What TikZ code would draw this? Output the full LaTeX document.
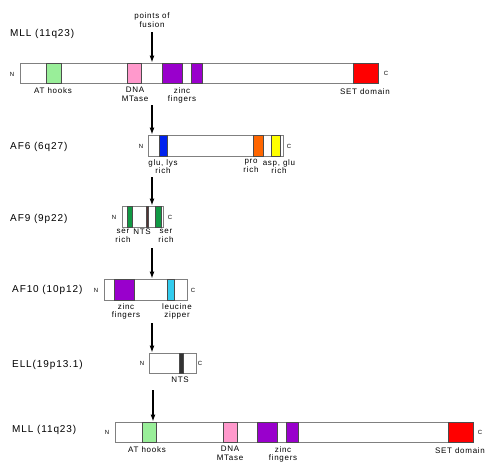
\documentclass[tikz,border=0pt]{standalone}
\usepackage{fontspec}
\setmainfont{Liberation Sans}
\newfontfamily\lblfont[LetterSpace=9]{Liberation Sans}
\usepackage{tikz}
\usetikzlibrary{positioning,arrows.meta,calc}
\definecolor{atgreen}{HTML}{99EE99}
\definecolor{mtpink}{HTML}{FF99CC}
\definecolor{znpurple}{HTML}{9900CC}
\definecolor{setred}{HTML}{FF0000}
\definecolor{glublue}{HTML}{0022EE}
\definecolor{proorange}{HTML}{FF6600}
\definecolor{aspyellow}{HTML}{FFFF00}
\definecolor{sergreen}{HTML}{119944}
\definecolor{ntsbrown}{HTML}{553333}
\definecolor{lzcyan}{HTML}{33CCEE}
\definecolor{barline}{HTML}{808080}

\begin{document}
\begin{tikzpicture}[
  x=1pt, y=-1pt,
  bar/.style={draw=barline, line width=0.9pt, fill=white, inner sep=0pt,
    minimum height=20pt},
  dom/.style={draw=black!70, line width=0.5pt, inner sep=0pt, minimum height=20pt},
  lbl/.style={inner sep=0pt, anchor=north, align=center,
    font=\lblfont\fontsize{8}{8.5}\selectfont},
  term/.style={inner sep=0pt, font=\lblfont\fontsize{6}{7}\selectfont},
  title/.style={inner sep=0pt, anchor=west, font=\lblfont\fontsize{10}{12}\selectfont},
  arr/.style={-{Latex[length=7pt,width=5pt]}, line width=1.3pt}
]
  \useasboundingbox (0,0) rectangle (489,475);

  % --- MLL (top) ---
  \node[title] (t1) at (10,34) {MLL (11q23)};
  \node[lbl, anchor=center] (pof) at (152,20) {points of\\fusion};
  \node[bar, minimum width=358pt] (mll) at (199,73) {};
  \node[dom, fill=atgreen,  minimum width=15pt] (mllat)  at (53.5,73)  {};
  \node[dom, fill=mtpink,   minimum width=14pt] (mllmt)  at (134,73)   {};
  \node[dom, fill=znpurple, minimum width=20pt] (mllzn)  at (172,73)   {};
  \node[dom, fill=znpurple, minimum width=11pt] (mllzn2) at (196.5,73) {};
  \node[dom, fill=setred,   minimum width=25pt] (mllset) at (365.5,73) {};
  \node[term] (mlln) at (12,74)  {N};
  \node[term] (mllc) at (386,73) {C};
  \node[lbl] (lat)  at (53,87)  {AT hooks};
  \node[lbl] (lmt)  at (135,87) {DNA\\MTase};
  \node[lbl] (lzn)  at (182,87) {zinc\\fingers};
  \node[lbl] (lset) at (365,88) {SET domain};
  \draw[arr] (pof.south |- 0,32) -- (pof.south |- mll.north);

  % --- AF6 ---
  \node[title] (t2) at (10,147) {AF6 (6q27)};
  \node[bar, minimum width=135pt, minimum height=21pt] (af6) at (215.5,145.5) {};
  \node[dom, fill=glublue,   minimum width=8pt,  minimum height=21pt] (af6glu) at (163,145.5)   {};
  \node[dom, fill=proorange, minimum width=10pt, minimum height=21pt] (af6pro) at (258,145.5)   {};
  \node[dom, fill=aspyellow, minimum width=9pt,  minimum height=21pt] (af6asp) at (275.5,145.5) {};
  \node[term] (af6n) at (141,146) {N};
  \node[term] (af6c) at (289,146) {C};
  \node[lbl] (lglu) at (163,159) {glu, lys\\rich};
  \node[lbl] (lpro) at (251,159) {pro\\rich};
  \node[lbl] (lasp) at (279,159) {asp, glu\\rich};
  \coordinate (f2) at (152,105);
  \draw[arr] (f2) -- (f2 |- af6.north);

  % --- AF9 ---
  \node[title] (t3) at (10,219) {AF9 (9p22)};
  \node[bar, minimum width=41pt, minimum height=21pt] (af9) at (142.5,216.5) {};
  \node[dom, fill=sergreen, minimum width=5pt,   minimum height=21pt] (af9s1) at (129.5,216.5) {};
  \node[dom, fill=ntsbrown, minimum width=2.5pt, minimum height=21pt] (af9nt) at (147,216.5)   {};
  \node[dom, fill=sergreen, minimum width=6pt,   minimum height=21pt] (af9s2) at (158,216.5)   {};
  \node[term] (af9n) at (114,217) {N};
  \node[term] (af9c) at (170,217) {C};
  \node[lbl] (ls1)  at (123,229) {ser\\rich};
  \node[lbl] (lnt9) at (142,229) {NTS};
  \node[lbl] (ls2)  at (166,229) {ser\\rich};
  \coordinate (f3) at (152,177);
  \draw[arr] (f3) -- (f3 |- af9.north);

  % --- AF10 ---
  \node[title] (t4) at (12,290) {AF10 (10p12)};
  \node[bar, minimum width=83pt, minimum height=21pt] (af10) at (145.5,289.5) {};
  \node[dom, fill=znpurple, minimum width=20pt, minimum height=21pt] (af10zn) at (124,289.5)   {};
  \node[dom, fill=lzcyan,   minimum width=7pt,  minimum height=21pt] (af10lz) at (170.5,289.5) {};
  \node[term] (af10n) at (96,290)  {N};
  \node[term] (af10c) at (193,290) {C};
  \node[lbl] (lzn10) at (126,303) {zinc\\fingers};
  \node[lbl] (llz)   at (177,303) {leucine\\zipper};
  \coordinate (f4) at (152,248);
  \draw[arr] (f4) -- (f4 |- af10.north);

  % --- ELL ---
  \node[title] (t5) at (12,365) {ELL(19p13.1)};
  \node[bar, minimum width=47pt] (ell) at (172.5,363) {};
  \node[dom, fill=black!80, minimum width=4pt] (ellnt) at (181,363) {};
  \node[term] (elln) at (142,363) {N};
  \node[term] (ellc) at (200,363) {C};
  \node[lbl] (lntell) at (180,377) {NTS};
  \coordinate (f5) at (152,323);
  \draw[arr] (f5) -- (f5 |- ell.north);

  % --- MLL (bottom) ---
  \node[title] (t6) at (12,430) {MLL (11q23)};
  \node[bar, minimum width=358pt] (mllb) at (294,432) {};
  \node[dom, fill=atgreen,  minimum width=14pt] (mllbat)  at (149,432)   {};
  \node[dom, fill=mtpink,   minimum width=14pt] (mllbmt)  at (230,432)   {};
  \node[dom, fill=znpurple, minimum width=20pt] (mllbzn)  at (267,432)   {};
  \node[dom, fill=znpurple, minimum width=12pt] (mllbzn2) at (292,432)   {};
  \node[dom, fill=setred,   minimum width=25pt] (mllbset) at (460.5,432) {};
  \node[term] (mllbn) at (107,432) {N};
  \node[term] (mllbc) at (480,432) {C};
  \node[lbl] (lbat)  at (147,446) {AT hooks};
  \node[lbl] (lbmt)  at (230,446) {DNA\\MTase};
  \node[lbl] (lbzn)  at (283,446) {zinc\\fingers};
  \node[lbl] (lbset) at (460,447) {SET domain};
  \coordinate (f6) at (153,390);
  \draw[arr] (f6) -- (f6 |- mllb.north);
\end{tikzpicture}
\end{document}
